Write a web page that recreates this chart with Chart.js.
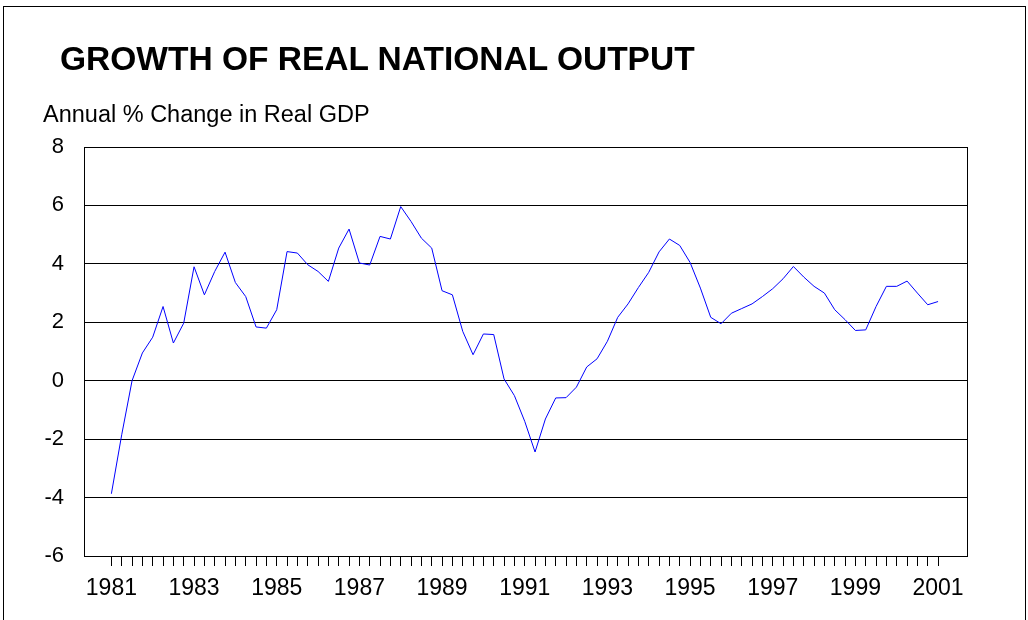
<!DOCTYPE html>
<html>
<head>
<meta charset="utf-8">
<script src="https://cdn.jsdelivr.net/npm/chart.js@4.4.1/dist/chart.umd.min.js"></script>
<style>
    html, body { margin: 0; padding: 0; background: #fff; overflow: hidden; }
    #wrap { position: relative; width: 1028px; height: 620px; }
    #frame { position: absolute; left: 3px; top: 6px; width: 1021px; height: 640px; border: 1px solid #000; }
    #title { position: absolute; left: 60px; top: 42px; font: bold 33.5px "Liberation Sans", Arial, sans-serif; line-height: 33px; color: #000; white-space: nowrap; }
    #subtitle { position: absolute; left: 43px; top: 103px; font: 23.5px "Liberation Sans", Arial, sans-serif; line-height: 23px; color: #000; white-space: nowrap; }
    canvas { position: absolute; left: 0; top: 0; }
</style>
</head>
<body>
<div id="wrap">
    <div id="frame"></div>
    <canvas id="gdpChart" width="1028" height="620"></canvas>
    <div id="title">GROWTH OF REAL NATIONAL OUTPUT</div>
    <div id="subtitle">Annual % Change in Real GDP</div>
</div>
<script>
// Quarterly annual % change in real GDP, 1981 Q1 .. 2001 Q1
const growth = [
    -3.87, -1.85, 0.00, 0.95, 1.49, 2.54, 1.29, 1.97,
    3.90, 2.94, 3.74, 4.40, 3.36, 2.88, 1.84, 1.80,
    2.43, 4.42, 4.37, 3.97, 3.74, 3.40, 4.54, 5.19,
    4.03, 3.96, 4.94, 4.85, 5.96, 5.45, 4.88, 4.54,
    3.08, 2.94, 1.69, 0.89, 1.60, 1.58, 0.06, -0.51,
    -1.39, -2.44, -1.31, -0.59, -0.58, -0.22, 0.47, 0.75,
    1.35, 2.17, 2.63, 3.19, 3.71, 4.41, 4.85, 4.63,
    4.05, 3.17, 2.17, 1.95, 2.31, 2.47, 2.63, 2.88,
    3.15, 3.49, 3.91, 3.55, 3.23, 3.00, 2.43, 2.09,
    1.72, 1.74, 2.54, 3.23, 3.23, 3.41, 3.00, 2.60,
    2.71
];

// Year labels, one every 8 quarters
const yearLabels = ['1981', '1983', '1985', '1987', '1989', '1991', '1993', '1995', '1997', '1999', '2001'];

const yTicks = [-6, -4, -2, 0, 2, 4, 6, 8];

const FONT = '"Liberation Sans", Arial, sans-serif';

// plot frame around the chart area
const frameBox = {
    id: 'frameBox',
    afterDraw(chart) {
        const a = chart.chartArea;
        const ctx = chart.ctx;
        ctx.save();
        ctx.strokeStyle = '#000';
        ctx.lineWidth = 1;
        ctx.strokeRect(Math.round(a.left) + 0.5, Math.round(a.top) + 0.5,
            Math.round(a.right - a.left), Math.round(a.bottom - a.top));
        ctx.restore();
    }
};

const ctx = document.getElementById('gdpChart').getContext('2d');

new Chart(ctx, {
    type: 'line',
    data: {
        datasets: [{
            label: 'Real GDP',
            data: growth.map((v, i) => ({ x: i, y: v })),
            borderColor: '#0000ff',
            borderWidth: 1,
            pointRadius: 0,
            tension: 0,
            fill: false
        }]
    },
    options: {
        responsive: false,
        animation: false,
        layout: {
            padding: { left: 0, top: 147, right: 61, bottom: 0 }
        },
        plugins: {
            legend: { display: false },
            tooltip: { enabled: false }
        },
        scales: {
            x: {
                type: 'linear',
                min: -2.65,
                max: 82.8,
                afterBuildTicks: function(axis) {
                    axis.ticks = growth.map((v, i) => ({ value: i }));
                },
                afterFit: function(axis) {
                    axis.height = 64;
                },
                grid: {
                    drawOnChartArea: false,
                    drawTicks: true,
                    tickLength: 10,
                    color: '#000'
                },
                border: { display: true, color: '#000' },
                ticks: {
                    autoSkip: false,
                    maxRotation: 0,
                    padding: 9,
                    color: '#000',
                    font: { family: FONT, size: 23 },
                    callback: function(value) {
                        return value % 8 === 0 ? yearLabels[value / 8] : '';
                    }
                }
            },
            y: {
                min: -6,
                max: 8,
                afterBuildTicks: function(axis) {
                    axis.ticks = yTicks.map(v => ({ value: v }));
                },
                afterFit: function(axis) {
                    axis.width = 84;
                },
                grid: {
                    drawTicks: false,
                    color: '#000',
                    lineWidth: 1
                },
                border: { display: true, color: '#000' },
                ticks: {
                    padding: 20,
                    color: '#000',
                    font: { family: FONT, size: 22 }
                }
            }
        }
    },
    plugins: [frameBox]
});
</script>
</body>
</html>
